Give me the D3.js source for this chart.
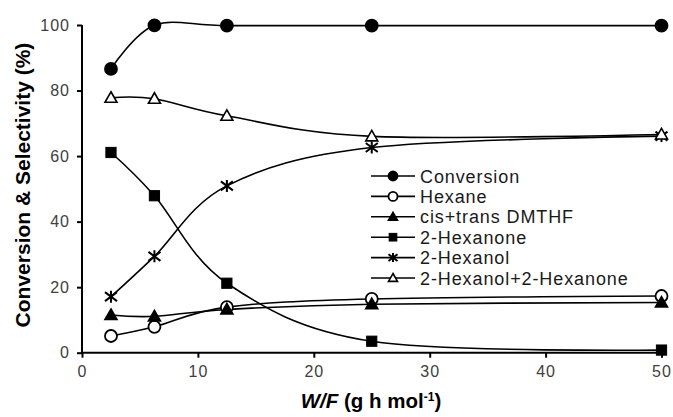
<!DOCTYPE html>
<html lang="en">
<head>
  <meta charset="utf-8">
  <title>Conversion & Selectivity vs W/F</title>
  <script src="https://cdnjs.cloudflare.com/ajax/libs/d3/7.8.5/d3.min.js"></script>
  <style type="text/css">
  body { margin: 0; background: #fff; }
  #chart { display: block; }
  .tick text { font-family: 'Liberation Sans', Arial, sans-serif; font-size: 16px; fill: #404040; letter-spacing: 1px; }
  .legend text { font-family: 'Liberation Sans', Arial, sans-serif; font-size: 18px; fill: #1a1a1a; letter-spacing: 0.9px; }
  .title { font-family: 'Liberation Sans', Arial, sans-serif; font-weight: bold; fill: #000; }
  </style>
</head>
<body>
  <svg id="chart"></svg>
  <script type="text/javascript">
  // data
  var wf = [2.5, 6.25, 12.5, 25, 50];
  var conversion = [86.6, 99.9, 99.8, 99.8, 99.8];
  var hexane = [5.1, 7.9, 13.9, 16.4, 17.3];
  var dmthf = [11.5, 11.1, 13.2, 14.8, 15.3];
  var hexanone = [61.1, 47.9, 21.2, 3.5, 0.8];
  var hexanol = [17.1, 29.4, 50.9, 62.6, 66.1];
  var hexSum = [77.8, 77.5, 72.3, 66.0, 66.6];
  var xTicks = [0, 10, 20, 30, 40, 50];
  var yTicks = [0, 20, 40, 60, 80, 100];

  var series = [
    { name: "Conversion", values: conversion, marker: "circle", fill: "#000" },
    { name: "Hexane", values: hexane, marker: "circle", fill: "#fff" },
    { name: "cis+trans DMTHF", values: dmthf, marker: "triangle", fill: "#000" },
    { name: "2-Hexanone", values: hexanone, marker: "square", fill: "#000" },
    { name: "2-Hexanol", values: hexanol, marker: "star", fill: "none" },
    { name: "2-Hexanol+2-Hexanone", values: hexSum, marker: "triangle", fill: "#fff" }
  ];

  var w = 673, h = 417;
  var m = { left: 82, right: 661.5, top: 25, bottom: 352.7 };

  var svg = d3.select("#chart").attr("width", w).attr("height", h);

  var x = d3.scaleLinear().domain([0, 50]).range([m.left, m.right]);
  var y = d3.scaleLinear().domain([0, 100]).range([m.bottom, m.top]);

  // axes
  var xAxis = svg.append("g")
    .attr("transform", "translate(0," + m.bottom + ")")
    .call(d3.axisBottom(x).tickValues(xTicks).tickSize(5).tickPadding(8));
  var yAxis = svg.append("g")
    .attr("transform", "translate(" + m.left + ",0)")
    .call(d3.axisLeft(y).tickValues(yTicks).tickSize(5).tickPadding(7));
  [xAxis, yAxis].forEach(function(a) {
    a.select(".domain").attr("stroke", "#000").attr("stroke-width", 2);
    a.selectAll(".tick line").attr("stroke", "#000").attr("stroke-width", 2);
  });
  xAxis.select(".domain").attr("d", "M" + m.left + ",0H" + (m.right + 1.5));
  yAxis.select(".domain").attr("d", "M0,1V" + (m.top - m.bottom));
  yAxis.select(".domain").attr("transform", "translate(0," + m.bottom + ")");

  // markers
  function drawMarker(g, type, fill, size) {
    var r = size / 2;
    if (type === "circle") {
      g.append("circle").attr("r", r).attr("fill", fill).attr("stroke", "#000").attr("stroke-width", 1.8);
    } else if (type === "square") {
      g.append("rect").attr("x", -r * 0.85).attr("y", -r * 0.85).attr("width", r * 1.7).attr("height", r * 1.7)
        .attr("fill", fill).attr("stroke", "#000").attr("stroke-width", 1);
    } else if (type === "triangle") {
      var t = r * 1.0;
      g.append("path").attr("d", "M0," + (-t) + "L" + t + "," + (t * 0.75) + "L" + (-t) + "," + (t * 0.75) + "Z")
        .attr("fill", fill).attr("stroke", "#000").attr("stroke-width", 1.6).attr("stroke-linejoin", "miter");
    } else if (type === "star") {
      var s = r * 1.0;
      g.append("path").attr("d", "M0," + (-s) + "V" + s + "M" + (-s) + "," + (-s * 0.75) + "L" + s + "," + (s * 0.75) +
        "M" + (-s) + "," + (s * 0.75) + "L" + s + "," + (-s * 0.75))
        .attr("stroke", "#000").attr("stroke-width", 2).attr("fill", "none");
    }
  }

  var line = d3.line()
    .x(function(d, i) { return x(wf[i]); })
    .y(function(d) { return y(d); })
    .curve(d3.curveCatmullRom.alpha(0));

  var plot = svg.append("g");
  series.forEach(function(s) {
    plot.append("path").attr("d", line(s.values))
      .attr("fill", "none").attr("stroke", "#000").attr("stroke-width", 1.6);
  });
  series.forEach(function(s) {
    s.values.forEach(function(v, i) {
      var g = plot.append("g").attr("transform", "translate(" + x(wf[i]) + "," + y(v) + ")");
      drawMarker(g, s.marker, s.fill, 12);
    });
  });

  // legend
  var legend = svg.append("g").attr("class", "legend");
  series.forEach(function(s, i) {
    var ly = 176 + i * 20.4;
    var g = legend.append("g").attr("transform", "translate(0," + ly + ")");
    g.append("line").attr("x1", 371).attr("x2", 415).attr("y1", 0).attr("y2", 0)
      .attr("stroke", "#000").attr("stroke-width", 1.6);
    drawMarker(g.append("g").attr("transform", "translate(393,0)"), s.marker, s.fill, 9);
    g.append("text").attr("x", 420).attr("y", 6.5).text(s.name);
  });

  // axis titles
  svg.append("text").attr("class", "title")
    .attr("transform", "translate(30,185) rotate(-90)")
    .attr("text-anchor", "middle").style("font-size", "21px")
    .text("Conversion & Selectivity (%)");

  var xt = svg.append("text").attr("class", "title")
    .attr("x", 371).attr("y", 408).attr("text-anchor", "middle").style("font-size", "20.5px");
  xt.append("tspan").style("font-style", "italic").text("W/F");
  xt.append("tspan").text(" (g h mol");
  xt.append("tspan").attr("dy", -7).style("font-size", "12px").text("-1");
  xt.append("tspan").attr("dy", 7).text(")");
  </script>
</body>
</html>
